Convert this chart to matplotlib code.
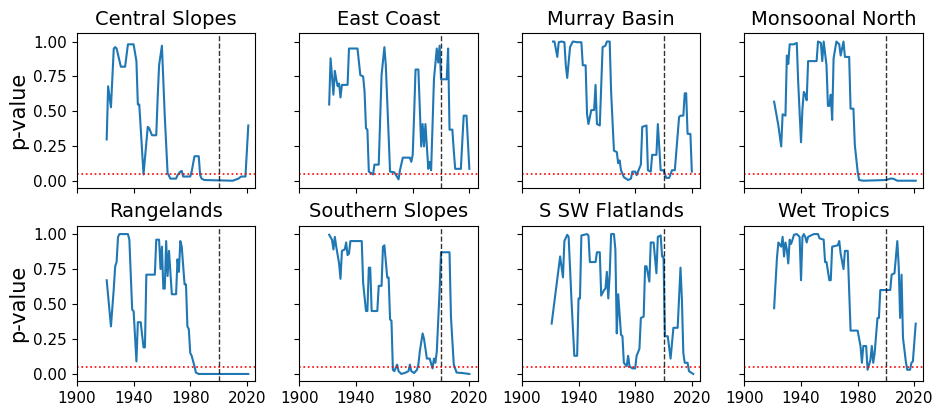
"""
p-value of trend tests by NRM cluster, 2x4 panel grid.
Values read off the reference chart (year, p-value at each visible turning point).
"""

import matplotlib.pyplot as plt

regions = ["Central Slopes", "East Coast", "Murray Basin", "Monsoonal North",
           "Rangelands", "Southern Slopes", "S SW Flatlands", "Wet Tropics"]

central_slopes_yr = [1921, 1922, 1924, 1926, 1927, 1928, 1931, 1934, 1936, 1940, 1942, 1943, 1944,
                     1947, 1950, 1951, 1953, 1956, 1957, 1958, 1960, 1962, 1964, 1966, 1970, 1971,
                     1973, 1974, 1975, 1980, 1981, 1983, 1986, 1987, 1988, 1990, 2010, 2014, 2016,
                     2019, 2021]
central_slopes_p = [0.30, 0.68, 0.53, 0.95, 0.96, 0.95, 0.82, 0.82, 0.98, 0.98, 0.86, 0.55, 0.55,
                    0.05, 0.39, 0.38, 0.33, 0.33, 0.60, 0.83, 0.97, 0.47, 0.06, 0.02, 0.02, 0.045,
                    0.07, 0.075, 0.035, 0.035, 0.07, 0.18, 0.18, 0.045, 0.02, 0.01, 0.005, 0.02,
                    0.035, 0.035, 0.40]

east_coast_yr = [1921, 1922, 1924, 1925, 1926, 1927, 1928, 1929, 1930, 1931, 1934, 1935, 1941,
                 1943, 1945, 1946, 1947, 1948, 1949, 1952, 1953, 1956, 1958, 1960, 1961, 1964,
                 1967, 1970, 1971, 1973, 1978, 1979, 1980, 1981, 1982, 1984, 1986, 1987, 1988,
                 1989, 1991, 1992, 1993, 1994, 1995, 1997, 1998, 1999, 2000, 2001, 2004, 2005,
                 2006, 2008, 2009, 2010, 2014, 2016, 2018, 2020]
east_coast_p = [0.55, 0.88, 0.62, 0.79, 0.73, 0.68, 0.70, 0.60, 0.69, 0.69, 0.69, 0.95, 0.95,
                0.76, 0.75, 0.64, 0.38, 0.37, 0.07, 0.05, 0.12, 0.12, 0.76, 0.96, 0.83, 0.07,
                0.065, 0.015, 0.08, 0.17, 0.17, 0.14, 0.19, 0.48, 0.80, 0.80, 0.25, 0.41, 0.25,
                0.41, 0.09, 0.14, 0.08, 0.40, 0.73, 0.95, 0.85, 0.97, 0.73, 0.73, 0.73, 0.95,
                0.37, 0.37, 0.22, 0.09, 0.09, 0.47, 0.47, 0.09]

murray_basin_yr = [1922, 1923, 1925, 1926, 1928, 1930, 1931, 1932, 1934, 1936, 1939, 1942, 1943,
                   1945, 1946, 1947, 1949, 1951, 1952, 1953, 1955, 1957, 1959, 1960, 1962, 1963,
                   1965, 1967, 1968, 1969, 1970, 1972, 1975, 1977, 1978, 1980, 1981, 1982, 1984,
                   1985, 1988, 1989, 1991, 1992, 1995, 1996, 1998, 2000, 2002, 2004, 2006, 2008,
                   2011, 2012, 2014, 2015, 2016, 2017, 2019, 2020]
murray_basin_p = [1.00, 1.00, 0.89, 0.995, 1.00, 0.995, 0.83, 0.74, 0.96, 1.00, 0.995, 0.995, 0.83,
                  0.83, 0.48, 0.41, 0.51, 0.51, 0.69, 0.41, 0.40, 0.96, 0.97, 1.00, 1.00, 0.64,
                  0.22, 0.21, 0.13, 0.15, 0.08, 0.03, 0.01, 0.02, 0.07, 0.07, 0.045, 0.07, 0.12,
                  0.39, 0.40, 0.08, 0.07, 0.19, 0.19, 0.41, 0.08, 0.08, 0.025, 0.025, 0.08, 0.08,
                  0.46, 0.47, 0.47, 0.63, 0.63, 0.34, 0.34, 0.07]

monsoonal_north_yr = [1921, 1924, 1926, 1927, 1929, 1930, 1931, 1932, 1935, 1937, 1938, 1940,
                      1941, 1942, 1943, 1944, 1945, 1951, 1952, 1954, 1955, 1956, 1958, 1959,
                      1960, 1961, 1962, 1963, 1965, 1967, 1968, 1970, 1971, 1974, 1975, 1977,
                      1978, 1980, 1981, 1984, 2000, 2003, 2005, 2008, 2021]
monsoonal_north_p = [0.57, 0.40, 0.25, 0.48, 0.47, 0.90, 0.84, 0.98, 0.98, 0.99, 0.71, 0.28,
                     0.52, 0.64, 0.62, 0.58, 0.86, 0.86, 1.00, 0.99, 0.86, 1.00, 0.83, 0.54,
                     0.54, 0.62, 0.44, 0.88, 1.00, 0.98, 0.90, 1.00, 0.89, 0.89, 0.52, 0.52,
                     0.26, 0.07, 0.01, 0.005, 0.01, 0.02, 0.02, 0.005, 0.005]

rangelands_yr = [1921, 1924, 1926, 1927, 1928, 1929, 1930, 1932, 1933, 1936, 1937, 1939, 1940,
                 1942, 1943, 1945, 1947, 1948, 1949, 1955, 1956, 1958, 1959, 1960, 1961, 1962,
                 1963, 1964, 1965, 1967, 1970, 1971, 1972, 1973, 1974, 1976, 1977, 1978, 1979,
                 1980, 1981, 1983, 1984, 1986, 2021]
rangelands_p = [0.67, 0.34, 0.61, 0.77, 0.80, 0.98, 1.00, 1.00, 1.00, 1.00, 0.96, 0.46, 0.45,
                0.09, 0.37, 0.37, 0.19, 0.19, 0.71, 0.71, 0.96, 0.96, 0.75, 0.91, 0.61, 0.61,
                0.95, 0.70, 0.88, 0.57, 0.57, 0.82, 0.73, 0.95, 0.91, 0.64, 0.64, 0.34, 0.32,
                0.15, 0.13, 0.055, 0.01, 0.0, 0.0]

southern_slopes_yr = [1921, 1923, 1924, 1925, 1926, 1928, 1929, 1930, 1932, 1933, 1934, 1935,
                      1936, 1944, 1945, 1947, 1948, 1949, 1950, 1951, 1955, 1956, 1958, 1959,
                      1960, 1962, 1963, 1964, 1965, 1966, 1967, 1969, 1970, 1972, 1975, 1977,
                      1978, 1979, 1981, 1983, 1984, 1985, 1987, 1988, 1990, 1992, 1994, 1995,
                      1996, 1997, 1999, 2000, 2006, 2007, 2009, 2011, 2015, 2020]
southern_slopes_p = [0.995, 0.96, 0.89, 0.98, 0.91, 0.79, 0.68, 0.88, 0.89, 0.94, 0.85, 0.86,
                     0.95, 0.95, 0.65, 0.45, 0.45, 0.76, 0.76, 0.45, 0.45, 0.63, 0.63, 0.91,
                     0.92, 0.69, 0.69, 0.39, 0.38, 0.03, 0.02, 0.067, 0.02, 0.0, 0.01, 0.02,
                     0.067, 0.02, 0.007, 0.03, 0.067, 0.16, 0.29, 0.25, 0.11, 0.11, 0.04, 0.11,
                     0.08, 0.16, 0.60, 0.87, 0.87, 0.41, 0.067, 0.01, 0.007, 0.0]

s_sw_flatlands_yr = [1921, 1924, 1927, 1929, 1930, 1932, 1933, 1935, 1937, 1939, 1940, 1941,
                     1942, 1946, 1947, 1948, 1952, 1953, 1955, 1956, 1958, 1959, 1960, 1961,
                     1962, 1963, 1965, 1966, 1967, 1968, 1970, 1971, 1972, 1974, 1975, 1976,
                     1978, 1980, 1981, 1983, 1984, 1986, 1987, 1988, 1990, 1991, 1993, 1995,
                     1996, 1998, 1999, 2000, 2001, 2003, 2005, 2007, 2008, 2010, 2012, 2013,
                     2014, 2015, 2017, 2018, 2021]
s_sw_flatlands_p = [0.36, 0.60, 0.84, 0.69, 0.95, 0.995, 0.98, 0.53, 0.13, 0.13, 0.54, 0.54,
                    0.99, 1.00, 0.99, 0.80, 0.80, 0.87, 0.87, 0.56, 0.60, 0.61, 0.73, 0.54,
                    0.71, 1.00, 1.00, 0.89, 0.29, 0.57, 0.28, 0.27, 0.08, 0.055, 0.13, 0.055,
                    0.04, 0.04, 0.13, 0.18, 0.40, 0.41, 0.77, 0.77, 0.66, 0.94, 0.94, 0.72,
                    0.98, 0.99, 0.84, 0.84, 0.27, 0.27, 0.11, 0.33, 0.33, 0.33, 0.76, 0.53,
                    0.15, 0.08, 0.08, 0.02, 0.0]

wet_tropics_yr = [1921, 1923, 1924, 1926, 1927, 1928, 1929, 1930, 1931, 1932, 1933, 1934, 1935,
                  1937, 1939, 1940, 1941, 1942, 1943, 1944, 1945, 1949, 1952, 1953, 1956, 1957,
                  1958, 1960, 1961, 1962, 1966, 1967, 1968, 1970, 1971, 1973, 1975, 1980, 1982,
                  1983, 1984, 1986, 1987, 1989, 1990, 1991, 1992, 1994, 1995, 1996, 2003, 2004,
                  2006, 2008, 2009, 2010, 2011, 2012, 2014, 2015, 2017, 2018, 2019, 2021]
wet_tropics_p = [0.47, 0.83, 0.94, 0.91, 0.98, 0.84, 0.94, 0.89, 0.79, 0.96, 0.93, 0.96, 0.995,
                 1.00, 0.98, 0.67, 0.98, 1.00, 0.98, 0.94, 0.98, 1.00, 1.00, 0.97, 0.96, 0.80,
                 0.80, 0.67, 0.67, 0.91, 0.92, 0.95, 0.86, 0.75, 0.88, 0.88, 0.31, 0.31, 0.20,
                 0.08, 0.20, 0.20, 0.03, 0.10, 0.20, 0.08, 0.15, 0.40, 0.40, 0.60, 0.60, 0.71,
                 0.72, 0.95, 0.77, 0.40, 0.71, 0.26, 0.09, 0.03, 0.03, 0.08, 0.09, 0.36]

years = [central_slopes_yr, east_coast_yr, murray_basin_yr, monsoonal_north_yr,
         rangelands_yr, southern_slopes_yr, s_sw_flatlands_yr, wet_tropics_yr]
pvals = [central_slopes_p, east_coast_p, murray_basin_p, monsoonal_north_p,
         rangelands_p, southern_slopes_p, s_sw_flatlands_p, wet_tropics_p]

alpha_level = 0.05
break_year = 2000

fig, axes = plt.subplots(2, 4, figsize=(9.34, 4.04), dpi=100, sharex=True, sharey=True)
fig.subplots_adjust(left=0.0824, right=0.988, top=0.918, bottom=0.057,
                    wspace=0.247, hspace=0.24)

for ax, name, yr, p in zip(axes.flat, regions, years, pvals):
    ax.plot(yr, p, color="tab:blue", lw=1.5)
    ax.axhline(alpha_level, color="red", ls=":", lw=1.2)
    ax.axvline(break_year, color="k", ls="--", lw=1, alpha=0.8)
    ax.set_title(name, fontsize=14)
    ax.tick_params(labelsize=11)

for ax in axes[:, 0]:
    ax.set_ylabel("p-value", fontsize=15)

axes[0, 0].set_xlim(1900, 2026)
axes[0, 0].set_xticks([1900, 1940, 1980, 2020])
axes[0, 0].set_ylim(-0.05, 1.06)
axes[0, 0].set_yticks([0, 0.25, 0.5, 0.75, 1.0])

plt.savefig("out.png")
